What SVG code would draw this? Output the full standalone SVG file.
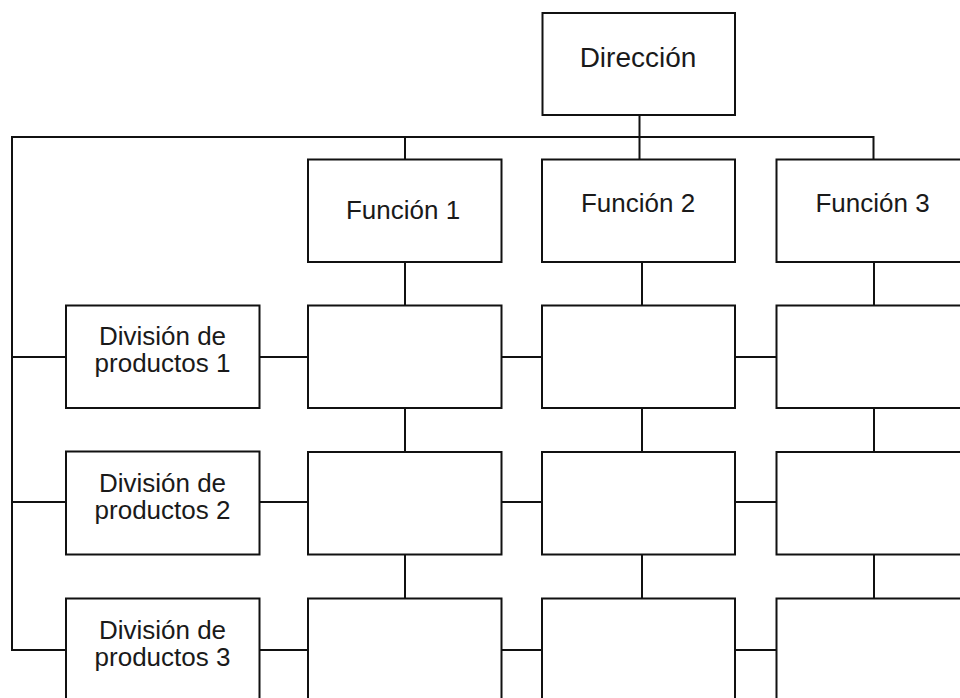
<svg xmlns="http://www.w3.org/2000/svg" width="960" height="698" viewBox="0 0 960 698">
  <style>
    .box { fill: #ffffff; stroke: #111111; stroke-width: 2; }
    .wire { fill: none; stroke: #111111; stroke-width: 2; }
    .lbl { font-family: "Liberation Sans", Arial, sans-serif; font-size: 26px; fill: #1a1a1a; text-anchor: middle; }
    .big { font-size: 28px; }
  </style>
  <rect width="960" height="698" fill="#ffffff"/>

  <!-- connectors -->
  <g id="connectors" class="wire">
    <!-- top bus from Dirección -->
    <path d="M639.5 115 V137"/>
    <path d="M873.5 159.5 V137 H12 V650 H66"/>
    <path d="M405 137 V159.5"/>
    <path d="M639.5 137 V159.5"/>
    <!-- division feeders -->
    <path d="M12 357 H66"/>
    <path d="M12 502 H66"/>
    <!-- row links -->
    <path d="M259.5 357 H308 M501.5 357 H542 M735 357 H776.5"/>
    <path d="M259.5 502 H308 M501.5 502 H542 M735 502 H776.5"/>
    <path d="M259.5 650 H308 M501.5 650 H542 M735 650 H776.5"/>
    <!-- column links -->
    <path d="M405 262 V305.5 M405 408 V452 M405 554.5 V598.5"/>
    <path d="M642 262 V305.5 M642 408 V452 M642 554.5 V598.5"/>
    <path d="M874 262 V305.5 M874 408 V452 M874 554.5 V598.5"/>
  </g>

  <!-- head -->
  <g id="direccion">
    <rect class="box" x="542.5" y="13" width="192.5" height="102"/>
    <text class="lbl big" x="638" y="66.5">Dirección</text>
  </g>

  <!-- function heads -->
  <g id="funcion1">
    <rect class="box" x="308" y="159.5" width="193.5" height="102.5"/>
    <text class="lbl" x="403" y="219">Función 1</text>
  </g>
  <g id="funcion2">
    <rect class="box" x="542" y="159.5" width="193" height="102.5"/>
    <text class="lbl" x="638" y="211.5">Función 2</text>
  </g>
  <g id="funcion3">
    <rect class="box" x="776.5" y="159.5" width="194" height="102.5"/>
    <text class="lbl" x="872.5" y="211.5">Función 3</text>
  </g>

  <!-- product divisions -->
  <g id="division1">
    <rect class="box" x="66" y="305.5" width="193.5" height="102.5"/>
    <text class="lbl" x="162.5" y="345">División de<tspan x="162.5" dy="26.5">productos 1</tspan></text>
  </g>
  <g id="division2">
    <rect class="box" x="66" y="451.5" width="193.5" height="103"/>
    <text class="lbl" x="162.5" y="491.5">División de<tspan x="162.5" dy="27">productos 2</tspan></text>
  </g>
  <g id="division3">
    <rect class="box" x="66" y="598.5" width="193.5" height="102.5"/>
    <text class="lbl" x="162.5" y="638.5">División de<tspan x="162.5" dy="27">productos 3</tspan></text>
  </g>

  <!-- matrix cells -->
  <g id="cell-1-1"><rect class="box" x="308" y="305.5" width="193.5" height="102.5"/></g>
  <g id="cell-1-2"><rect class="box" x="542" y="305.5" width="193" height="102.5"/></g>
  <g id="cell-1-3"><rect class="box" x="776.5" y="305.5" width="194" height="102.5"/></g>
  <g id="cell-2-1"><rect class="box" x="308" y="452" width="193.5" height="102.5"/></g>
  <g id="cell-2-2"><rect class="box" x="542" y="452" width="193" height="102.5"/></g>
  <g id="cell-2-3"><rect class="box" x="776.5" y="452" width="194" height="102.5"/></g>
  <g id="cell-3-1"><rect class="box" x="308" y="598.5" width="193.5" height="102.5"/></g>
  <g id="cell-3-2"><rect class="box" x="542" y="598.5" width="193" height="102.5"/></g>
  <g id="cell-3-3"><rect class="box" x="776.5" y="598.5" width="194" height="102.5"/></g>
</svg>
